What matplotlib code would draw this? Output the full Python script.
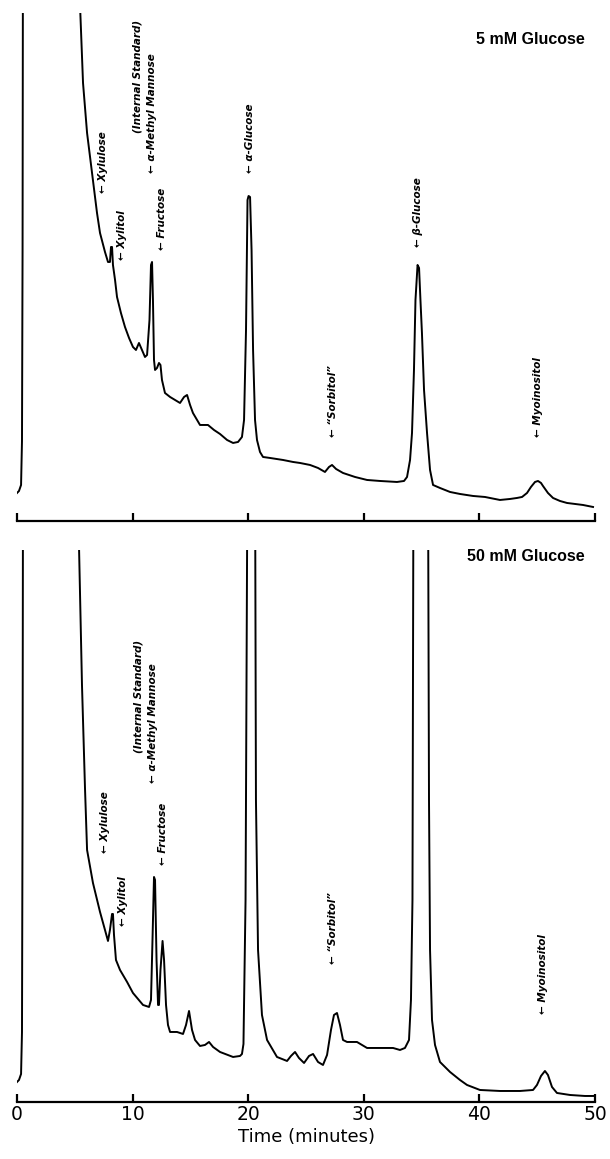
import matplotlib
matplotlib.use("Agg")
import matplotlib.pyplot as plt
import numpy as np

# retention time (minutes) and detector response (arbitrary units), 5 mM glucose run
t_5mM = [0.00, 0.17, 0.35, 0.43, 0.48, 0.52, 2.85, 5.28, 5.45, 5.71, 6.06, 6.49, 6.92,
         7.18, 7.61, 7.87, 8.04, 8.13, 8.22, 8.30, 8.48, 8.65, 8.99, 9.34, 9.69, 10.03,
         10.29, 10.55, 10.81, 11.07, 11.25, 11.46, 11.59, 11.68, 11.76, 11.85, 11.94,
         12.11, 12.28, 12.41, 12.54, 12.80, 13.24, 13.67, 14.10, 14.45, 14.71, 14.97,
         15.22, 15.83, 16.26, 16.52, 17.04, 17.56, 18.17, 18.69, 19.12, 19.46, 19.64,
         19.81, 19.94, 20.03, 20.16, 20.29, 20.42, 20.59, 20.76, 21.02, 21.28, 21.89,
         23.01, 23.88, 24.48, 25.35, 26.04, 26.64, 26.99, 27.25, 27.60, 28.20, 29.24,
         30.28, 31.40, 32.87, 33.48, 33.74, 34.00, 34.17, 34.34, 34.47, 34.65, 34.78,
         34.90, 35.03, 35.21, 35.47, 35.73, 35.99, 36.59, 37.46, 38.32, 39.45, 40.48,
         41.78, 42.65, 43.25, 43.69, 44.12, 44.46, 44.81, 45.07, 45.33, 45.50, 45.93,
         46.37, 46.97, 47.58, 48.27, 48.96, 49.83]
s_5mM = [5.6, 6.0, 7.2, 16.0, 54.2, 130, 130, 130, 103.2, 87.6, 77.6, 69.6, 61.6,
         57.6, 53.8, 51.8, 51.8, 54.8, 54.8, 51.2, 48.2, 44.8, 41.6, 38.8, 36.6, 34.8,
         34.2, 35.6, 34.2, 32.8, 33.2, 40.2, 51.2, 51.8, 44.2, 32.2, 30.2,
         30.6, 31.6, 31.2, 28.2, 25.6, 24.8, 24.2, 23.6, 24.8, 25.2, 23.2,
         21.6, 19.2, 19.2, 19.2, 18.2, 17.4, 16.2, 15.6, 15.8, 16.8, 20.2,
         38.2, 64.2, 65.0, 64.8, 54.2, 34.2, 20.2, 16.2, 13.8, 12.8, 12.6,
         12.2, 11.8, 11.6, 11.2, 10.6, 9.8, 10.8, 11.2, 10.4, 9.6, 8.8,
         8.2, 8.0, 7.8, 8.0, 8.8, 12.2, 17.6, 30.2, 44.2, 51.2, 50.6,
         44.2, 37.6, 26.2, 17.6, 10.2, 7.2, 6.6, 5.8, 5.4, 5.0, 4.8,
         4.2, 4.4, 4.6, 4.8, 5.6, 6.8, 7.8, 8.0, 7.6, 7.0, 5.6,
         4.6, 4.0, 3.6, 3.4, 3.2, 2.8]

# 50 mM glucose run
t_50mM = [0.00, 0.17, 0.35, 0.43, 0.48, 0.52, 2.85, 5.20, 5.36, 5.62, 5.88, 6.06, 6.57,
          7.18, 7.61, 7.87, 8.04, 8.22, 8.30, 8.39, 8.56, 8.91, 9.52, 10.03, 10.90,
          11.42, 11.59, 11.72, 11.85, 11.94, 12.07, 12.20, 12.28, 12.41, 12.59, 12.72,
          12.89, 13.06, 13.24, 13.84, 14.36, 14.62, 14.88, 15.14, 15.40, 15.83, 16.26,
          16.61, 16.96, 17.56, 18.69, 19.29, 19.46, 19.59, 19.77, 19.94, 20.59, 20.67,
          20.85, 21.19, 21.63, 22.49, 23.36, 23.70, 24.05, 24.39, 24.83, 25.26, 25.61,
          26.04, 26.47, 26.82, 27.16, 27.42, 27.68, 27.94, 28.20, 28.55, 29.41, 30.28,
          31.40, 32.53, 33.13, 33.56, 33.91, 34.08, 34.21, 34.30, 35.55, 35.64, 35.73,
          35.90, 36.16, 36.59, 37.46, 38.32, 38.93, 40.05, 41.78, 43.51, 44.64, 44.98,
          45.33, 45.67, 45.93, 46.28, 46.71, 47.84, 49.13, 49.83]
s_50mM = [4.0, 4.4, 5.6, 14.0, 60.4, 130, 130, 130, 111.4, 83.4, 62.8, 50.4, 43.8,
          38.0, 34.4, 32.2, 34.4, 37.6, 37.6, 33.4, 28.4, 26.4, 24.0, 21.8, 19.4,
          19.0, 20.4, 32.4, 45.0, 44.4, 28.4, 19.4, 19.4, 26.4, 32.2, 28.4,
          19.4, 15.4, 14.0, 14.0, 13.6, 15.4, 18.2, 14.4, 12.4, 11.2, 11.4,
          12.0, 11.0, 10.0, 9.0, 9.2, 9.6, 11.6, 40.4, 130, 130, 60.4,
          30.4, 17.4, 12.4, 9.0, 8.2, 9.2, 10.0, 8.8, 7.8, 9.2, 9.6,
          8.0, 7.4, 9.4, 14.4, 17.4, 17.8, 15.4, 12.4, 12.0, 12.0, 10.8,
          10.8, 10.8, 10.4, 10.8, 12.4, 20.4, 40.4, 130, 130, 60.4, 30.4,
          16.4, 11.4, 8.0, 6.0, 4.4, 3.4, 2.4, 2.2, 2.2, 2.4, 3.4,
          5.2, 6.2, 5.4, 3.0, 1.8, 1.4, 1.2, 1.2]

# peak labels: (text, time, response at arrow tip)
labels_5mM = [("\u2190 Xylulose", 7.44, 65.6), ("\u2190 Xylitol", 9.08, 52.2),
              ("\u2190 \u03b1-Methyl Mannose", 11.68, 69.6), ("(Internal Standard)", 10.38, 77.6),
              ("\u2190 Fructose", 12.54, 54.2), ("\u2190 \u03b1-Glucose", 20.16, 69.6),
              ("\u2190 \u201cSorbitol\u201d", 27.34, 16.8), ("\u2190 \u03b2-Glucose", 34.69, 54.8),
              ("\u2190 Myoinositol", 45.07, 16.8)]
labels_50mM = [("\u2190 Xylulose", 7.61, 49.8), ("\u2190 Xylitol", 9.17, 35.2),
               ("\u2190 \u03b1-Methyl Mannose", 11.76, 63.8), ("(Internal Standard)", 10.47, 69.8),
               ("\u2190 Fructose", 12.63, 47.4), ("\u2190 \u201cSorbitol\u201d", 27.34, 27.6),
               ("\u2190 Myoinositol", 45.5, 17.5)]

ticks = [0, 10, 20, 30, 40, 50]
lab_font = ["Liberation Sans Narrow", "DejaVu Sans"]

fig = plt.figure(figsize=(6.1, 11.59), dpi=100)
ax1 = fig.add_axes([0.0279, 0.5505, 0.9475, 0.4383])
ax2 = fig.add_axes([0.0279, 0.0492, 0.9475, 0.4763])


def style(ax, top):
    ax.set_xlim(0, 50)
    ax.set_ylim(0, top)
    for sp in ["top", "left", "right"]:
        ax.spines[sp].set_visible(False)
    ax.spines["bottom"].set_linewidth(1.6)
    ax.set_yticks([])
    ax.set_xticks(ticks)
    ax.tick_params(axis="x", direction="in", length=6, width=1.6, pad=2)


ax1.plot(t_5mM, s_5mM, color="black", lw=1.4)
style(ax1, 101.6)
ax1.set_xticklabels([])
for txt, x, y in labels_5mM:
    ax1.text(x, y, txt, rotation=90, ha="center", va="bottom", fontsize=7.5,
             family=lab_font, style="italic", weight="bold")
ax1.text(49.1, 96.2, "5 mM Glucose", ha="right", va="center", fontsize=11.5,
         weight="bold", family=["Liberation Sans", "DejaVu Sans"])

ax2.plot(t_50mM, s_50mM, color="black", lw=1.4)
style(ax2, 110.4)
ax2.set_xticklabels([str(v) for v in ticks], fontsize=13.5)
for txt, x, y in labels_50mM:
    ax2.text(x, y, txt, rotation=90, ha="center", va="bottom", fontsize=7.5,
             family=lab_font, style="italic", weight="bold")
ax2.text(49.1, 109.0, "50 mM Glucose", ha="right", va="center", fontsize=11.5,
         weight="bold", family=["Liberation Sans", "DejaVu Sans"])
ax2.set_xlabel("Time (minutes)", fontsize=13, labelpad=3)

fig.savefig("out.png", dpi=100)
